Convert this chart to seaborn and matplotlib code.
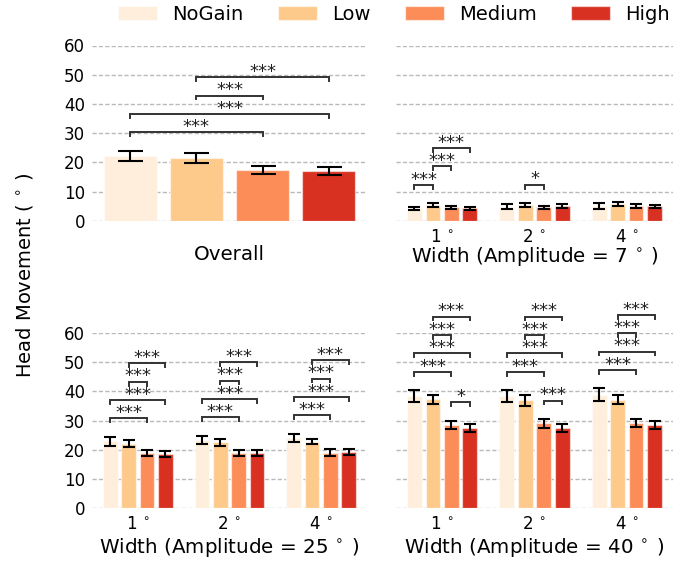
import numpy as np
import pandas as pd
import matplotlib
matplotlib.use("Agg")
import matplotlib.pyplot as plt
import seaborn as sns

# ---------------- data ----------------
gains = ["NoGain", "Low", "Medium", "High"]
colors = ["#feeedb", "#fdca8b", "#fc8d59", "#d93121"]
widths = ["1$\\:^\\circ$", "2$\\:^\\circ$", "4$\\:^\\circ$"]

overall_mean = [22.2, 21.6, 17.4, 17.1]
overall_err = [1.8, 1.65, 1.3, 1.25]

amp7_mean = [[4.3, 5.4, 4.7, 4.3], [4.9, 5.4, 4.7, 5.1], [5.1, 5.8, 5.2, 5.0]]
amp7_err = [[0.65, 0.65, 0.55, 0.5], [0.8, 0.7, 0.5, 0.55], [0.9, 0.7, 0.6, 0.6]]

amp25_mean = [[22.9, 22.1, 18.8, 18.6], [23.4, 22.5, 19.0, 18.8], [24.1, 22.8, 19.0, 19.3]]
amp25_err = [[1.5, 1.2, 1.0, 1.0], [1.4, 1.2, 1.0, 1.0], [1.4, 1.0, 1.1, 1.1]]

amp40_mean = [[38.3, 37.3, 28.6, 27.5], [38.3, 36.9, 29.0, 27.4], [38.9, 37.2, 29.0, 28.5]]
amp40_err = [[2.1, 1.55, 1.35, 1.4], [2.1, 1.8, 1.5, 1.5], [2.1, 1.7, 1.35, 1.4]]

four = [(0, 2, "***"), (0, 3, "***"), (1, 2, "***"), (1, 3, "***")]
overall_sig = [four]
amp7_sig = [[(0, 1, "***"), (1, 2, "***"), (1, 3, "***")], [(1, 2, "*")], []]
amp25_sig = [four, four, four]
amp40_sig = [[(2, 3, "*")] + four, [(2, 3, "***")] + four, four]

yticks = [0, 10, 20, 30, 40, 50, 60]

# ---------------- style ----------------
plt.rcParams["font.family"] = ["DejaVu Sans"]
plt.rcParams["mathtext.fontset"] = "dejavusans"

fig = plt.figure(figsize=(6.75, 5.63), dpi=100)
W, H = 675.0, 563.0


def add_ax(x0, x1, y_top, y_bot):
    return fig.add_axes([x0 / W, 1 - y_bot / H, (x1 - x0) / W, (y_bot - y_top) / H])


ax_over = add_ax(92, 367, 45.5, 221)
ax_7 = add_ax(396, 673, 45.5, 221)
ax_25 = add_ax(92, 367, 333, 508)
ax_40 = add_ax(396, 673, 333, 508)

STEP = 6.3
DROP = 1.3


def panel(ax, cats, means, errs, sigs, xlabel, show_y, capsize, legend=False):
    rows = []
    for ci, c in enumerate(cats):
        for gi, g in enumerate(gains):
            rows.append({"cat": c, "gain": g, "value": means[ci][gi]})
    df = pd.DataFrame(rows)
    sns.barplot(data=df, x="cat", y="value", hue="gain", order=cats,
                hue_order=gains, palette=colors, saturation=1, errorbar=None,
                gap=0.2, width=0.8, ax=ax, legend=legend,
                edgecolor=(1, 1, 1, 0.55), linewidth=0.9, zorder=2)
    bars = [p for c in ax.containers for p in c]
    bars = sorted(bars, key=lambda p: p.get_x())
    xs = np.array([p.get_x() + p.get_width() / 2 for p in bars])
    flat_m = np.array(means).ravel()
    flat_e = np.array(errs).ravel()
    ax.errorbar(xs, flat_m, yerr=flat_e, fmt="none", ecolor="black",
                elinewidth=1.5, capsize=capsize, capthick=1.5, zorder=3)
    tops = flat_m + flat_e
    for ci in range(len(cats)):
        placed = []
        for (i, j, txt) in sigs[ci]:
            a, b = ci * 4 + i, ci * 4 + j
            y = tops[a:b + 1].max() + STEP
            for (pi, pj, py) in placed:
                if not (j < pi or i > pj):
                    y = max(y, py + STEP)
            placed.append((i, j, y))
            ax.plot([xs[a], xs[a], xs[b], xs[b]], [y - DROP, y, y, y - DROP],
                    color="#333333", lw=1.4, clip_on=False, zorder=4,
                    solid_joinstyle="miter")
            ax.annotate(txt, xy=((xs[a] + xs[b]) / 2, y), xytext=(0, 0.2),
                        textcoords="offset points", ha="center", va="baseline",
                        fontsize=13, color="#222222", annotation_clip=False)
    ax.set_ylim(0, 60)
    ax.set_yticks(yticks)
    ax.set_axisbelow(True)
    ax.yaxis.grid(True, linestyle=(0, (3, 1.6)), color="#b9b9b9", linewidth=1.0)
    ax.xaxis.grid(False)
    for s in ax.spines.values():
        s.set_visible(False)
    ax.tick_params(axis="both", length=0, labelsize=12, pad=5)
    if not show_y:
        ax.tick_params(axis="y", labelleft=False)
    ax.set_ylabel("")
    ax.set_xlabel(xlabel, fontsize=14.3)
    ax.set_facecolor("white")
    return ax


panel(ax_over, ["Overall"], [overall_mean], [overall_err], overall_sig,
      "Overall", True, 9, legend=True)
ax_over.set_xlim(-0.415, 0.415)
ax_over.set_xticks([])
panel(ax_7, widths, amp7_mean, amp7_err, amp7_sig,
      "Width (Amplitude = 7$\\:^\\circ\\:$)", False, 4.3)
panel(ax_25, widths, amp25_mean, amp25_err, amp25_sig,
      "Width (Amplitude = 25$\\:^\\circ\\:$)", True, 4.3)
panel(ax_40, widths, amp40_mean, amp40_err, amp40_sig,
      "Width (Amplitude = 40$\\:^\\circ\\:$)", False, 4.3)

for ax in (ax_7, ax_25, ax_40):
    ax.set_xlim(-0.5, 2.5)

ax_over.xaxis.set_label_coords(0.5, -0.135)
ax_7.xaxis.set_label_coords(0.5, -0.135)
ax_25.xaxis.set_label_coords(0.5, -0.16)
ax_40.xaxis.set_label_coords(0.5, -0.16)

handles, labels = ax_over.get_legend_handles_labels()
if ax_over.get_legend() is not None:
    ax_over.get_legend().remove()
fig.legend(handles, labels, loc="center", bbox_to_anchor=(394 / W, 1 - 14 / H),
           ncol=4, frameon=False, fontsize=14, handlelength=2.0,
           handleheight=0.75, handletextpad=0.8, columnspacing=1.75)

fig.text(25 / W, 1 - 275 / H, "Head Movement ($\\:^\\circ\\:$)", rotation=90,
         ha="center", va="center", fontsize=14)

fig.savefig("out.png", dpi=100, facecolor="white")
